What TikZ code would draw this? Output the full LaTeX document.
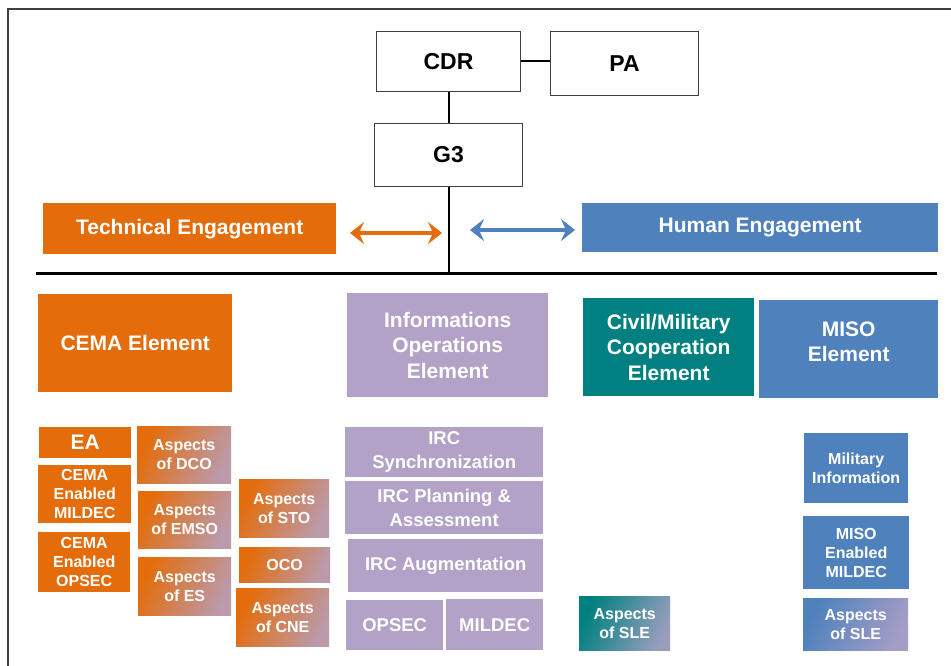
\documentclass[tikz,border=0pt]{standalone}
\usepackage{fontspec}
\setmainfont{Liberation Sans}
\usetikzlibrary{arrows.meta, positioning, calc}

\definecolor{cemaorange}{HTML}{E46C0A}
\definecolor{humanblue}{HTML}{4F81BD}
\definecolor{iolav}{HTML}{B3A2C7}
\definecolor{cmoteal}{HTML}{008080}
\definecolor{framegray}{HTML}{3F3F3F}

\tikzset{
  sz/.style 2 args={minimum width=#1pt, minimum height=#2pt},
  unit/.style={anchor=north west, inner sep=0pt, align=center, text=white},
  cmdbox/.style={unit, draw=framegray, line width=1pt, fill=white, text=black,
    font=\bfseries\fontsize{23}{27}\selectfont},
  bigtxt/.style={font=\bfseries\fontsize{21}{25.5}\selectfont},
  midtxt/.style={font=\bfseries\fontsize{18.5}{23.5}\selectfont},
  smalltxt/.style={font=\bfseries\fontsize{16}{19}\selectfont},
  techbox/.style={unit, fill=cemaorange},
  humanbox/.style={unit, fill=humanblue},
  iobox/.style={unit, fill=iolav},
  tealbox/.style={unit, fill=cmoteal},
  % base colour running into lavender towards the lower right
  aspect/.style={unit, smalltxt, left color=#1, middle color=#1!80!iolav, right color=iolav!85!#1, shading angle=65},
  link/.style={line width=2pt, black},
  engarrow/.style={line width=4pt, #1, arrows={Stealth[length=14pt, width=22pt, inset=5pt]-Stealth[length=14pt, width=22pt, inset=5pt]}}
}

\begin{document}
\begin{tikzpicture}[x=1pt, y=-1pt]
  \useasboundingbox (0,0) rectangle (951,666);
  % frame
  \draw[framegray, line width=1.5pt] (951,9) -- (8,9) -- (8,666);

  % command group
  \node[cmdbox, sz={144}{60}] (cdr) at (376,31) {CDR};
  \node[cmdbox, sz={148}{64}] (pa) at (550,31) {PA};
  \node[cmdbox, sz={148}{63}] (g3) at (374,123) {G3};
  \draw[link] (cdr.east) -- (cdr.east -| pa.west);
  \draw[link] (cdr.south) -- (g3.north);

  % engagement bar
  \coordinate (busL) at (36,273);
  \coordinate (busR) at (937,273);
  \draw[link] (g3.south) -- (g3.south |- busL);
  \draw[line width=3pt] (busL) -- (busR);

  \node[techbox, bigtxt, sz={293}{51}] (tech) at (43,203) {Technical Engagement};
  \node[humanbox, bigtxt, sz={356}{49}] (human) at (582,203) {Human Engagement};
  \coordinate (techA) at (350,233);
  \coordinate (techB) at (442,233);
  \coordinate (humA) at (470,230);
  \coordinate (humB) at (575,230);
  \draw[engarrow=cemaorange] (techA) -- (techB);
  \draw[engarrow=humanblue] (humA) -- (humB);

  % elements
  \node[techbox, bigtxt, sz={194}{98}] (cema) at (38,294) {CEMA Element};
  \node[iobox, bigtxt, sz={201}{104}] (ioe) at (347,293) {Informations\\Operations\\Element};
  \node[tealbox, bigtxt, sz={171}{98}] (cmc) at (583,298) {Civil/Military\\Cooperation\\Element};
  \node[humanbox, bigtxt, sz={179}{98}] (miso) at (759,300) {MISO\\Element\\[-10pt]};

  % CEMA parts
  \node[techbox, bigtxt, sz={92}{31}] (ea) at (39,427) {EA};
  \node[techbox, smalltxt, sz={93}{58}] (cemamil) at (38,465) {CEMA\\Enabled\\MILDEC};
  \node[techbox, smalltxt, sz={92}{60}] (cemaops) at (38,532) {CEMA\\Enabled\\OPSEC};
  \node[aspect=cemaorange, sz={94}{57}] (dco) at (137,426) {Aspects\\of DCO};
  \node[aspect=cemaorange, sz={93}{57}] (emso) at (138,491) {Aspects\\of EMSO};
  \node[aspect=cemaorange, sz={93}{58}] (es) at (138,557) {Aspects\\of ES};
  \node[aspect=cemaorange, sz={90}{58}] (sto) at (239,479) {Aspects\\of STO};
  \node[aspect=cemaorange, sz={91}{35}] (oco) at (239,547) {OCO};
  \node[aspect=cemaorange, sz={93}{58}] (cne) at (236,588) {Aspects\\of CNE};

  % IO parts
  \node[iobox, midtxt, sz={198}{50}] (sync) at (345,427) {IRC\\Synchronization};
  \node[iobox, midtxt, sz={198}{53}] (plan) at (345,481) {IRC Planning \&\\Assessment};
  \node[iobox, midtxt, sz={195}{53}] (aug) at (348,539) {IRC Augmentation};
  \node[iobox, midtxt, sz={97}{50}] (opsec) at (346,600) {OPSEC};
  \node[iobox, midtxt, sz={97}{51}] (mildec) at (446,599) {MILDEC};

  % civil/military and MISO parts
  \node[aspect=cmoteal, sz={91}{54}] (sleT) at (579,596) {Aspects\\of SLE};
  \node[humanbox, smalltxt, sz={104}{70}] (milinf) at (804,433) {Military\\Information};
  \node[humanbox, smalltxt, sz={106}{73}] (misomil) at (803,516) {MISO\\Enabled\\MILDEC};
  \node[aspect=humanblue, sz={105}{52}] (sleB) at (803,598) {Aspects\\of SLE};
\end{tikzpicture}
\end{document}
